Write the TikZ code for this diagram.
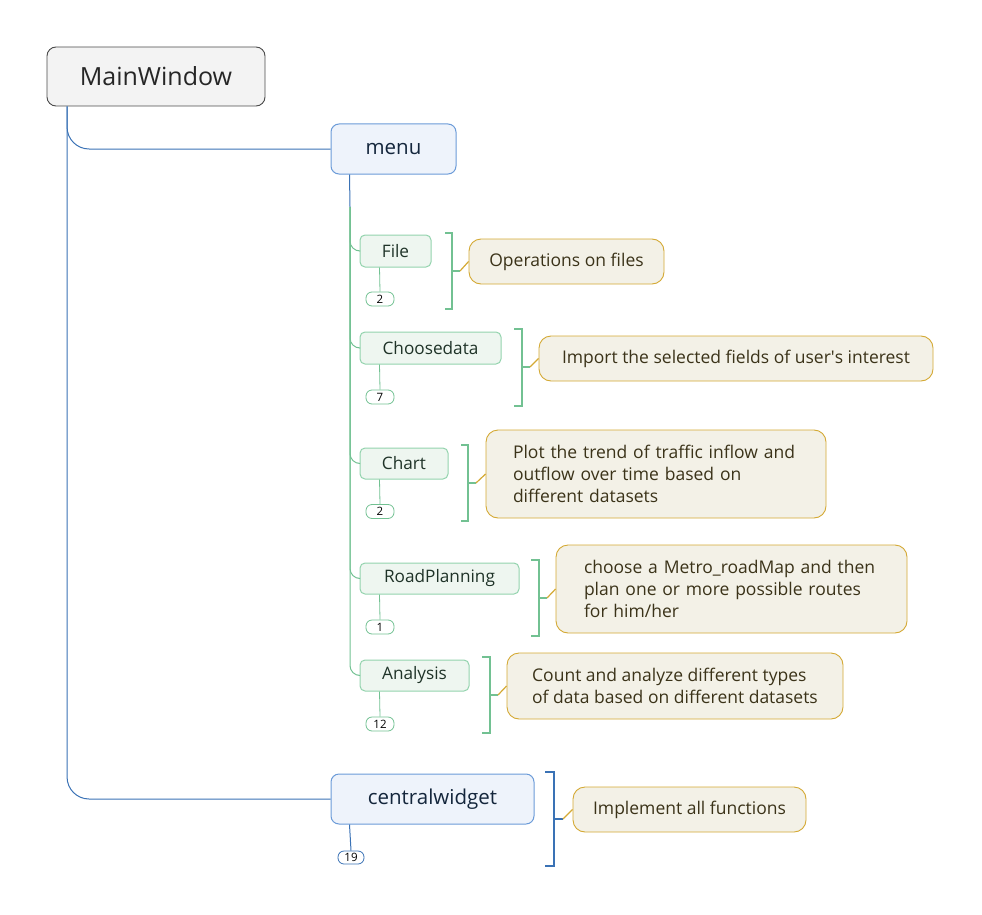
\documentclass[tikz,border=0pt]{standalone}
\usepackage{fontspec}
\setmainfont{Open Sans}
\usetikzlibrary{calc}
\definecolor{mwfill}{HTML}{F3F3F3}
\definecolor{mwdraw}{HTML}{4A4A4A}
\definecolor{bfill}{HTML}{EEF3FB}
\definecolor{bdraw}{HTML}{6B9BD8}
\definecolor{bline}{HTML}{3A72B5}
\definecolor{gfill}{HTML}{EEF6F0}
\definecolor{gdraw}{HTML}{93D3AD}
\definecolor{gline}{HTML}{72C192}
\definecolor{nfill}{HTML}{F3F1E7}
\definecolor{ndraw}{HTML}{D4A934}
\definecolor{ntext}{HTML}{3B3319}
\definecolor{gtext}{HTML}{1F3328}
\definecolor{btext}{HTML}{14263C}
\tikzset{
  mainbox/.style={draw=mwdraw, fill=mwfill, rounded corners=9pt, line width=0.9pt, inner sep=0pt, text=black!85, font=\fontsize{25}{30}\selectfont},
  topicbox/.style={draw=bdraw, fill=bfill, rounded corners=8pt, line width=1pt, inner sep=0pt, text=btext, font=\fontsize{20.5}{24}\selectfont},
  subbox/.style={draw=gdraw, fill=gfill, rounded corners=5pt, line width=1pt, inner sep=0pt, text=gtext, font=\fontsize{17.2}{20}\selectfont},
  notebox/.style={draw=ndraw, fill=nfill, rounded corners=12pt, line width=0.9pt, inner sep=0pt, text=ntext, align=left, font=\fontsize{17.5}{22}\selectfont},
  gcount/.style={draw=gline, fill=white, rounded corners=6pt, line width=0.8pt, inner sep=0pt, minimum width=28pt, minimum height=14pt, font=\fontsize{11.5}{11.5}\selectfont},
  bcount/.style={draw=bline, fill=white, rounded corners=6pt, line width=0.8pt, inner sep=0pt, minimum width=26pt, minimum height=13pt, font=\fontsize{11.5}{11.5}\selectfont},
  bluecon/.style={draw=bline, line width=1pt},
  greencon/.style={draw=gline, line width=1pt},
  gbracket/.style={draw=gline, line width=1.6pt},
  bbracket/.style={draw=bline, line width=1.6pt},
  notecon/.style={draw=ndraw, line width=1.2pt},
}
\begin{document}
\begin{tikzpicture}[x=1pt,y=-1pt]
\useasboundingbox (0,0) rectangle (982,915);

% main
\node[mainbox, minimum width=218pt, minimum height=59pt] (mw) at (156,76.5) {MainWindow};
\node[topicbox, minimum width=125pt, minimum height=50pt] (menu) at (393.5,149) {menu};
\node[topicbox, minimum width=203pt, minimum height=50pt] (cw) at (432.5,799) {centralwidget};

\coordinate (mwroot) at ($(mw.south west)+(20.5,0)$);
\draw[bluecon, rounded corners=22pt] (mwroot) |- (menu.west);
\draw[bluecon, rounded corners=22pt] (mwroot) |- (cw.west);

% menu trunk
\coordinate (mroot) at ($(menu.south west)+(19,0)$);
\coordinate (tr) at (350,207);
\draw[bluecon] (mroot) -- (tr);

% children
\node[subbox, minimum width=71pt, minimum height=32pt] (file) at (395.5,251) {File};
\node[subbox, minimum width=141pt, minimum height=32pt] (choose) at (430.5,348) {Choosedata};
\node[subbox, minimum width=88pt, minimum height=31pt] (chart) at (404,463.5) {Chart};
\node[subbox, minimum width=159pt, minimum height=31pt] (road) at (439.5,578.5) {RoadPlanning};
\node[subbox, minimum width=109pt, minimum height=31pt] (ana) at (414.5,675.5) {Analysis};

\foreach \n in {file,choose,chart,road,ana}{
  \draw[greencon, rounded corners=10pt] (tr) |- (\n.west);
}

% counts
\node[gcount] (c1) at (380,299) {2};
\node[gcount] (c2) at (380,397) {7};
\node[gcount] (c3) at (380,511.5) {2};
\node[gcount] (c4) at (380,627) {1};
\node[gcount] (c5) at (380,724) {12};
\node[bcount] (c6) at (351,857.5) {19};
\foreach \b/\c in {file/c1,choose/c2,chart/c3,road/c4,ana/c5}{
  \draw[greencon, line width=0.8pt] ($(\b.south west)+(20,0)$) -- (\c.north);
}
\draw[bluecon] ($(cw.south west)+(19,0)$) -- (c6.north);

% notes
\node[notebox, minimum width=195pt, minimum height=45pt] (n1) at (566.5,261.5) {Operations on files};
\node[notebox, minimum width=394pt, minimum height=45pt] (n2) at (736,358.5) {Import the selected fields of user\textquotesingle s interest};
\node[notebox, minimum width=340pt, minimum height=88pt, text width=286pt] (n3) at (656,474) {Plot the trend of traffic inflow and\\outflow over time based on\\different datasets};
\node[notebox, minimum width=351pt, minimum height=88pt, text width=295pt] (n4) at (731.5,589) {choose a Metro\_roadMap and then\\plan one or more possible routes\\for him/her};
\node[notebox, minimum width=336pt, minimum height=66pt] (n5) at (675,686) {Count and analyze different types\\of data based on different datasets};
\node[notebox, minimum width=233pt, minimum height=45pt] (n6) at (689.5,809.5) {Implement all functions};

% brackets
\foreach \xa/\xb/\ya/\yb/\ym/\n in {445/452/233/309/271/n1, 514/522/329/406/367/n2, 461/468/445/521/483/n3, 531/539/560/636/598/n4, 482/490/657/733/695/n5}{
  \draw[gbracket] (\xa,\ya) -- (\xb,\ya) -- (\xb,\yb) -- (\xa,\yb);
  \coordinate (bm\n) at (\xb,\ym);
  \coordinate (bk\n) at (\xb+8,\ym);
  \draw[greencon, line width=1.3pt] (bm\n) -- (bk\n);
  \draw[notecon] (bk\n) -- (\n.west);
}
\draw[bbracket] (545,772) -- (554,772) -- (554,866) -- (545,866);
\coordinate (bmn6) at (554,819);
\coordinate (bkn6) at (563,819);
\draw[bluecon, line width=1.3pt] (bmn6) -- (bkn6);
\draw[notecon] (bkn6) -- (n6.west);
\end{tikzpicture}
\end{document}
